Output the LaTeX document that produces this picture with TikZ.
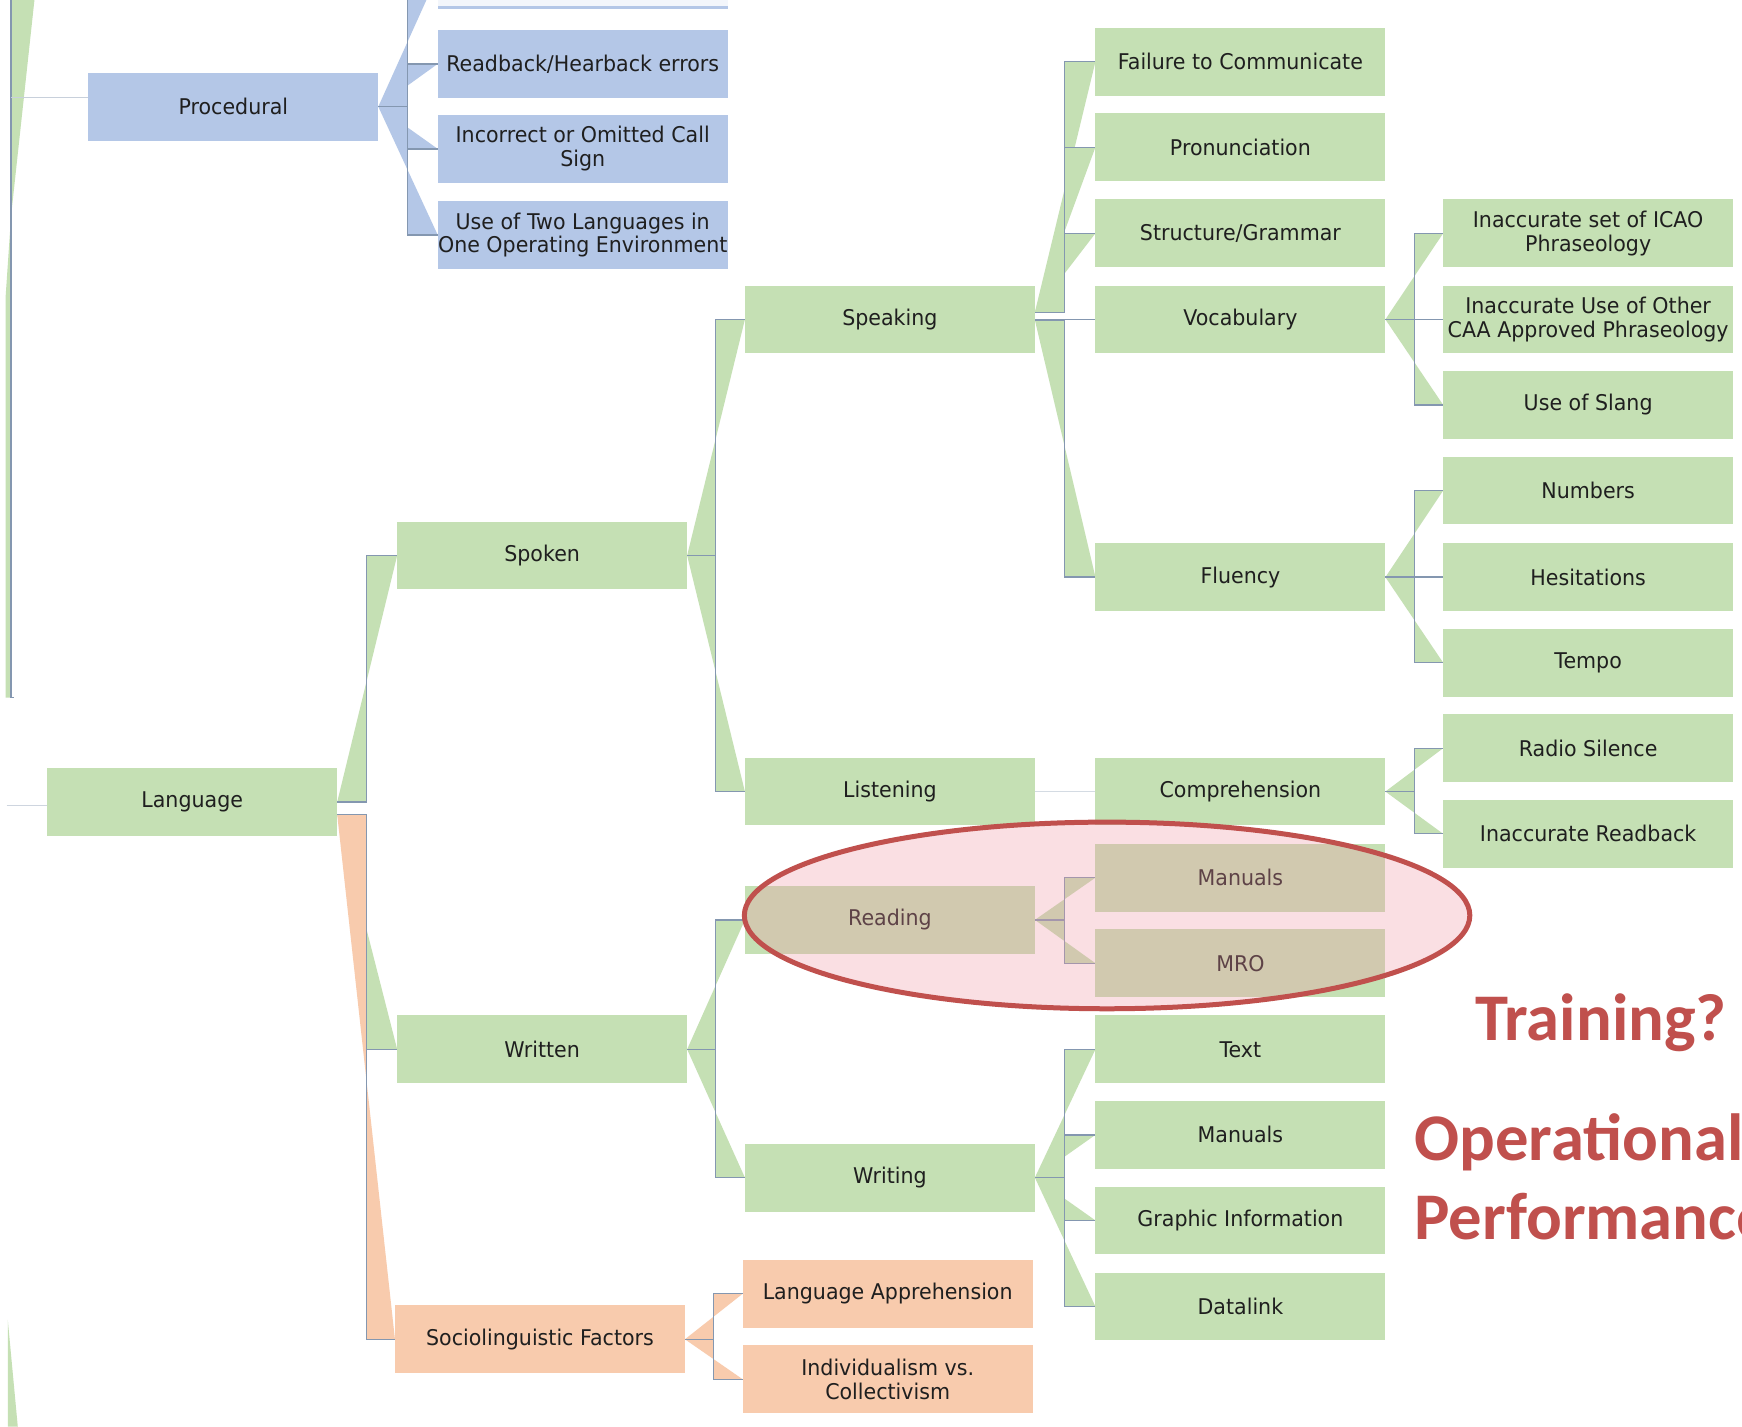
\documentclass[tikz,border=0pt]{standalone}
\usepackage{fontspec}
\newfontfamily\boxfont[FakeStretch=0.95]{DejaVu Sans}
\newfontfamily\redfont{Carlito}
\usetikzlibrary{calc}
\definecolor{gboxc}{RGB}{197,224,180}
\definecolor{bboxc}{RGB}{180,199,231}
\definecolor{oboxc}{RGB}{248,203,173}
\definecolor{lnc}{RGB}{132,151,176}
\definecolor{redc}{RGB}{192,80,77}
\definecolor{pinkc}{RGB}{240,150,165}
\pgfdeclarelayer{bg}
\pgfsetlayers{bg,main}
\tikzset{
 nd/.style={rectangle, minimum width=261pt, minimum height=61pt, align=center,
   inner sep=0pt, outer sep=0pt, text=black!88, font=\boxfont\fontsize{19.5}{21.5}\selectfont},
 gbx/.style={nd, fill=gboxc},
 bbx/.style={nd, fill=bboxc},
 obx/.style={nd, fill=oboxc},
 conn/.style={draw=lnc, line width=1.2pt},
 redtxt/.style={text=redc, inner sep=0pt, font=\redfont\bfseries\fontsize{60}{72}\selectfont},
}
\newcommand\btie[5]{\fill[#5] (#1.east |- 0,#4) -- (#3,#4) -- (#3,0 |- #2.west) -- (#2.west) -- cycle;}
\newcommand\elb[4]{\draw[conn] (#1.east |- 0,#4) -- (#3,#4) -- (#3,0 |- #2.west) -- (#2.west);}
\begin{document}
\begin{tikzpicture}[x=1pt,y=-1pt]
\useasboundingbox (0,0) rectangle (1568,1284);
\clip (0,0) rectangle (1568,1284);

% ---------- nodes ----------
\node[bbx] (proc) at (210,96) {Procedural};
\node[bbx] (topb) at (524.5,-22.5) {};
\node[bbx] (rbhb) at (524.5,57.5) {Readback/Hearback errors};
\node[bbx] (call) at (524.5,134) {Incorrect or Omitted Call\\Sign};
\node[bbx] (twol) at (524.5,211.5) {Use of Two Languages in\\One Operating Environment};

\node[gbx] (lang) at (173,722) {Language};
\node[gbx] (spok) at (488,500) {Spoken};
\node[gbx] (writn) at (488,944.5) {Written};
\node[obx] (soc) at (486,1205.5) {Sociolinguistic Factors};

\node[gbx] (speak) at (801,287.5) {Speaking};
\node[gbx] (listen) at (801,712.5) {Listening};
\node[gbx] (read) at (801,828) {Reading};
\node[gbx] (writg) at (801,1060) {Writing};
\node[obx] (lapp) at (799,1164.5) {Language Apprehension};
\node[obx] (indv) at (799,1241.5) {Individualism vs.\\Collectivism};

\node[gbx] (fail) at (1116.5,55.5) {Failure to Communicate};
\node[gbx] (pron) at (1116.5,132.5) {Pronunciation};
\node[gbx] (strc) at (1116.5,210) {Structure/Grammar};
\node[gbx] (vocb) at (1116.5,287.5) {Vocabulary};
\node[gbx] (flu) at (1116.5,519.5) {Fluency};
\node[gbx] (comp) at (1116.5,712.5) {Comprehension};
\node[gbx] (mana) at (1116.5,790) {Manuals};
\node[gbx] (mro) at (1116.5,867) {MRO};
\node[gbx] (text) at (1116.5,944.5) {Text};
\node[gbx] (manb) at (1116.5,1021.5) {Manuals};
\node[gbx] (grph) at (1116.5,1098.5) {Graphic Information};
\node[gbx] (dlnk) at (1116.5,1176) {Datalink};

\node[gbx] (icao) at (1429.5,210) {Inaccurate set of ICAO\\Phraseology};
\node[gbx] (othr) at (1429.5,287.5) {Inaccurate Use of Other\\CAA Approved Phraseology};
\node[gbx] (slng) at (1429.5,364.5) {Use of Slang};
\node[gbx] (numb) at (1429.5,441.5) {Numbers};
\node[gbx] (hesi) at (1429.5,519.5) {Hesitations};
\node[gbx] (temp) at (1429.5,596.5) {Tempo};
\node[gbx] (radi) at (1429.5,673.5) {Radio Silence};
\node[gbx] (rdbk) at (1429.5,750.5) {Inaccurate Readback};

% faded top box
\fill[white,opacity=0.85] (topb.north west) rectangle ($(topb.south east)+(0,-2.5)$);

% ---------- connectors ----------
\begin{pgfonlayer}{bg}
\fill[white] (0,0) rectangle (1568,1284);
% left edge (branch from off-picture parent)
\coordinate (lt) at (10,0);
\coordinate (lb) at (10,628);
\coordinate (lp) at (10,88);
\coordinate (ll) at (6,725);
\fill[gboxc] (10,0) -- (31,0) -- (10,194) -- cycle;
\fill[gboxc] (10,194) -- (10,628) -- (5,628) -- (5,268) -- cycle;
\fill[gboxc] (7,1188) -- (7,1284) -- (16,1284) -- cycle;
\draw[conn] (lt) -- (lb) -- ++(3,0);
\draw[conn, draw=lnc!45] (lp) -- (proc.west |- lp);
\draw[conn, draw=lnc!40] (ll) -- (lang.west |- ll);

% Procedural
\foreach \c in {topb,rbhb,call,twol} {\btie{proc}{\c}{367}{96}{bboxc}}
\foreach \c in {topb,rbhb,call,twol} {\elb{proc}{\c}{367}{96}}

% Language
\btie{lang}{spok}{330}{722}{gboxc}
\btie{lang}{writn}{330}{733}{gboxc}
\btie{lang}{soc}{330}{733}{oboxc}
\elb{lang}{spok}{330}{722}
\elb{lang}{writn}{330}{733}
\elb{lang}{soc}{330}{733}

% Spoken / Written / Socio
\foreach \c in {speak,listen} {\btie{spok}{\c}{644}{500}{gboxc}}
\foreach \c in {speak,listen} {\elb{spok}{\c}{644}{500}}
\foreach \c in {read,writg} {\btie{writn}{\c}{644}{944.5}{gboxc}}
\foreach \c in {read,writg} {\elb{writn}{\c}{644}{944.5}}
\foreach \c in {lapp,indv} {\btie{soc}{\c}{642}{1205.5}{oboxc}}
\foreach \c in {lapp,indv} {\elb{soc}{\c}{642}{1205.5}}

% Speaking
\foreach \c in {fail,pron,strc} {\btie{speak}{\c}{958}{281}{gboxc}}
\foreach \c in {vocb,flu} {\btie{speak}{\c}{958}{288}{gboxc}}
\foreach \c in {fail,pron,strc} {\elb{speak}{\c}{958}{281}}
\foreach \c in {vocb,flu} {\elb{speak}{\c}{958}{288}}

% Listening
\draw[conn, draw=lnc!35] (listen.east) -- (comp.west);

% Reading / Writing
\foreach \c in {mana,mro} {\btie{read}{\c}{958}{828}{gboxc}}
\foreach \c in {mana,mro} {\elb{read}{\c}{958}{828}}
\foreach \c in {text,manb,grph,dlnk} {\btie{writg}{\c}{958}{1060}{gboxc}}
\foreach \c in {text,manb,grph,dlnk} {\elb{writg}{\c}{958}{1060}}

% Vocabulary / Fluency / Comprehension
\foreach \c in {icao,othr,slng} {\btie{vocb}{\c}{1273}{287.5}{gboxc}}
\foreach \c in {icao,othr,slng} {\elb{vocb}{\c}{1273}{287.5}}
\foreach \c in {numb,hesi,temp} {\btie{flu}{\c}{1273}{519.5}{gboxc}}
\foreach \c in {numb,hesi,temp} {\elb{flu}{\c}{1273}{519.5}}
\foreach \c in {radi,rdbk} {\btie{comp}{\c}{1273}{712.5}{gboxc}}
\foreach \c in {radi,rdbk} {\elb{comp}{\c}{1273}{712.5}}
\end{pgfonlayer}

% ---------- highlight ellipse ----------
\fill[pinkc, opacity=0.3] (996.5,824) ellipse [x radius=326.5pt, y radius=84pt];
\draw[redc, line width=4.5pt] (996.5,824) ellipse [x radius=326.5pt, y radius=84pt];

% ---------- red annotations ----------
\node[redtxt, anchor=base] (train) at (1441,937) {Training?};
\node[redtxt, anchor=base west] (oper) at (1273,1045) {Operational};
\node[redtxt, anchor=base west] (perf) at (1273,1116) {Performance};
\end{tikzpicture}
\end{document}
